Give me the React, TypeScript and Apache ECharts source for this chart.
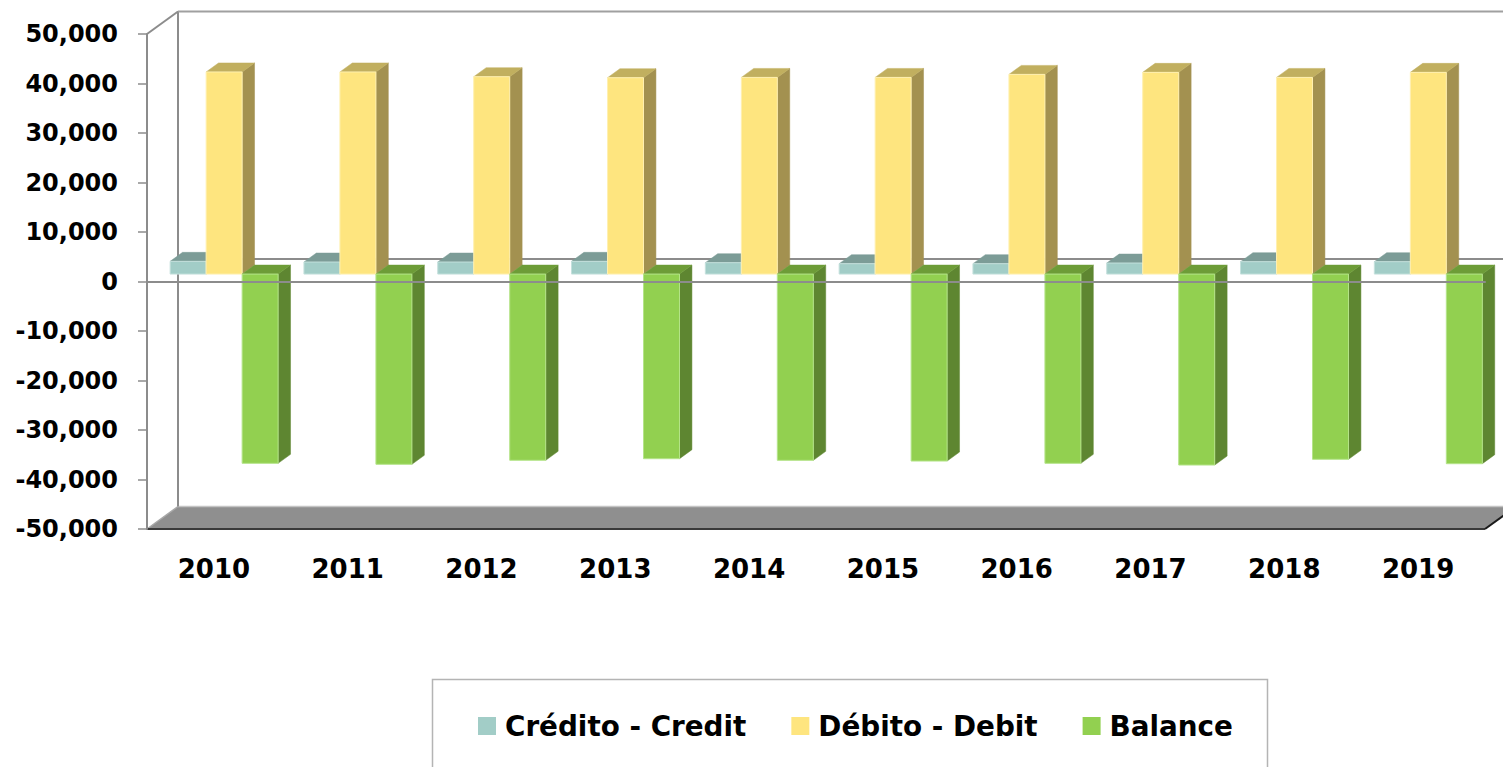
import React, { useEffect, useRef } from "react";
import * as echarts from "echarts";

const years = ["2010", "2011", "2012", "2013", "2014", "2015", "2016", "2017", "2018", "2019"];
const credit = [2570, 2430, 2430, 2570, 2300, 2100, 2100, 2230, 2500, 2500];
const debit = [40830, 40830, 39870, 39670, 39730, 39730, 40340, 40750, 39730, 40750];
const balance = [-38230, -38430, -37620, -37300, -37630, -37770, -38230, -38580, -37420, -38310];
const seriesNames = ["Crédito - Credit", "Débito - Debit", "Balance"];
const yTicks = { min: -50000, max: 50000, interval: 10000 };

const FONT = "'DejaVu Sans', sans-serif";
// depth vector of the 3D box (pixels) and bar depth fractions
const DX = 31;
const DY = -22.5;
const F1 = 0.33;
const F2 = 0.73;
const BAR_FRAC = 0.269;

const palettes = [
  { front: "#A2CDC7", top: "#7C9C97", side: "#6E8D88", edge: "#C4E0DC" },
  { front: "#FEE57F", top: "#C1AF5F", side: "#A39150", edge: "#FFF0B0" },
  { front: "#92D050", top: "#6D9C37", side: "#5E8631", edge: "#B5E48A" },
];

function barRenderer(k: number) {
  return (params: any, api: any) => {
    const idx = api.value(0);
    const val = api.value(1);
    const base = api.coord([idx, 0]);
    const tip = api.coord([idx, val]);
    const band = api.size([1, 0])[0];
    const w = band * BAR_FRAC;
    const x0 = base[0] + (k - 1.5) * w + DX * F1;
    const x1 = x0 + w;
    const yb = base[1] + DY * F1;
    const yt = tip[1] + DY * F1;
    const yUp = Math.min(yb, yt);
    const yDown = Math.max(yb, yt);
    const ddx = DX * (F2 - F1);
    const ddy = DY * (F2 - F1);
    const p = palettes[k];
    return {
      type: "group",
      children: [
        {
          type: "polygon",
          shape: { points: [[x1, yUp], [x1 + ddx, yUp + ddy], [x1 + ddx, yDown + ddy], [x1, yDown]] },
          style: { fill: p.side, stroke: p.side, lineWidth: 0.5 },
        },
        {
          type: "polygon",
          shape: { points: [[x0, yUp], [x0 + ddx, yUp + ddy], [x1 + ddx, yUp + ddy], [x1, yUp]] },
          style: { fill: p.top, stroke: p.top, lineWidth: 0.5 },
        },
        {
          type: "rect",
          shape: { x: x0, y: yUp, width: w, height: yDown - yUp },
          style: { fill: p.front, stroke: p.edge, lineWidth: 1 },
        },
      ],
    };
  };
}

function frameRenderer(params: any, api: any) {
  const cs = params.coordSys;
  const x = cs.x;
  const y = cs.y;
  const w = cs.width;
  const h = cs.height;
  const zero = api.coord([0, 0])[1];
  const gray = "#8C8C8C";
  return {
    type: "group",
    children: [
      {
        type: "polygon",
        shape: { points: [[x, y + h], [x + DX, y + h + DY], [x + w + DX, y + h + DY], [x + w, y + h]] },
        style: { fill: "#8F8F8F" },
      },
      { type: "line", shape: { x1: x + DX, y1: y + h + DY, x2: x + w + DX, y2: y + h + DY }, style: { stroke: "#C4C4C4", lineWidth: 1.5 } },
      { type: "line", shape: { x1: x, y1: y + h, x2: x + DX, y2: y + h + DY }, style: { stroke: "#A8A8A8", lineWidth: 1.5 } },
      { type: "line", shape: { x1: x, y1: y + h, x2: x + w, y2: y + h }, style: { stroke: "#3A3A3A", lineWidth: 2 } },
      { type: "line", shape: { x1: x + w, y1: y + h, x2: x + w + DX, y2: y + h + DY }, style: { stroke: "#1A1A1A", lineWidth: 2 } },
      { type: "line", shape: { x1: x + DX, y1: y + DY, x2: x + DX, y2: y + h + DY }, style: { stroke: gray, lineWidth: 2 } },
      { type: "line", shape: { x1: x + DX, y1: y + DY, x2: x + w + DX, y2: y + DY }, style: { stroke: "#A0A0A0", lineWidth: 2 } },
      { type: "line", shape: { x1: x, y1: y, x2: x + DX, y2: y + DY }, style: { stroke: gray, lineWidth: 2 } },
      { type: "line", shape: { x1: x + DX, y1: zero + DY, x2: x + w + DX, y2: zero + DY }, style: { stroke: gray, lineWidth: 2 } },
    ],
  };
}

export default function App() {
  const ref = useRef<HTMLDivElement>(null);
  useEffect(() => {
    if (!ref.current) return;
    const chart = echarts.init(ref.current, null, { renderer: "svg" });
    const valueSets = [credit, debit, balance];
    const option: any = {
      animation: false,
      backgroundColor: "#ffffff",
      grid: { left: 147, right: 18, top: 34, bottom: 238, containLabel: false },
      xAxis: {
        type: "category",
        data: years,
        z: 10,
        axisLine: { show: true, onZero: true, lineStyle: { color: "#8C8C8C", width: 2 } },
        axisTick: { show: false },
        axisLabel: {
          margin: 27,
          fontSize: 26,
          fontWeight: "bold",
          fontFamily: FONT,
          color: "#000",
        },
        splitLine: { show: false },
      },
      yAxis: {
        type: "value",
        min: yTicks.min,
        max: yTicks.max,
        interval: yTicks.interval,
        z: 10,
        axisLine: { show: true, lineStyle: { color: "#8C8C8C", width: 2 } },
        axisTick: { show: true, inside: false, length: 9, lineStyle: { color: "#8C8C8C", width: 1.5 } },
        axisLabel: {
          margin: 29,
          fontSize: 24,
          fontWeight: "bold",
          fontFamily: FONT,
          color: "#000",
          formatter: (v: number) => v.toLocaleString("en-US"),
        },
        splitLine: { show: false },
      },
      legend: {
        data: seriesNames,
        left: 478,
        top: 711,
        padding: 0,
        icon: "rect",
        itemWidth: 18,
        itemHeight: 18,
        itemGap: 45,
        textStyle: {
          fontSize: 27.8,
          fontWeight: "bold",
          fontFamily: FONT,
          color: "#000",
          lineHeight: 30,
          padding: [0, 0, 0, 4],
        },
      },
      graphic: [
        {
          type: "rect",
          silent: true,
          shape: { x: 432.5, y: 679.5, width: 835, height: 120 },
          style: { fill: "none", stroke: "#B4B4B4", lineWidth: 1.5 },
        },
      ],
      series: [
        {
          type: "custom",
          name: "frame",
          renderItem: frameRenderer,
          data: [[0, 0]],
          silent: true,
          z: 1,
        },
        ...seriesNames.map((name, k) => ({
          type: "custom",
          name,
          renderItem: barRenderer(k),
          data: valueSets[k].map((v, i) => [i, v]),
          itemStyle: { color: palettes[k].front },
          encode: { x: 0, y: 1 },
          z: 2,
        })),
      ],
    };
    chart.setOption(option);
    return () => chart.dispose();
  }, []);
  return (
    <div
      ref={ref}
      style={{ position: "fixed", left: 0, top: 0, width: 1503, height: 767, background: "#fff" }}
    />
  );
}
